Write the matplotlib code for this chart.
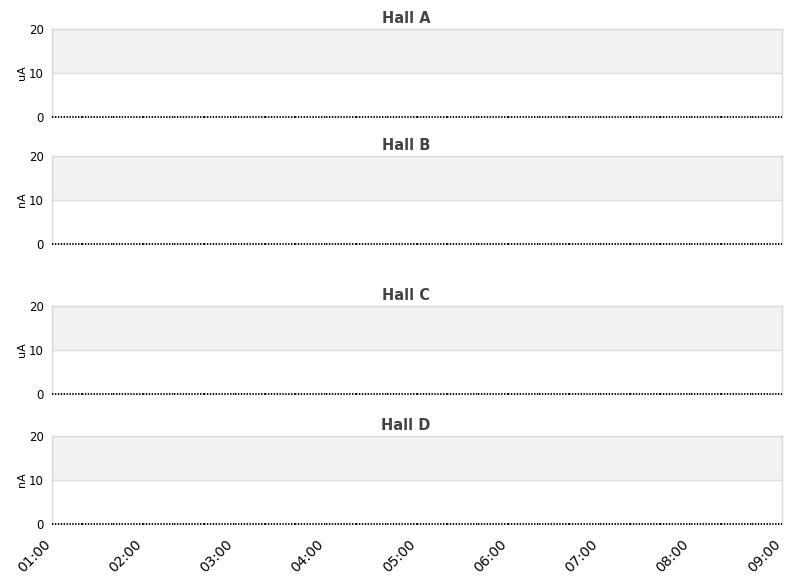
import numpy as np
import pandas as pd
import matplotlib
matplotlib.use("Agg")
import matplotlib.pyplot as plt
import matplotlib.dates as mdates
import matplotlib.transforms as mtransforms
from matplotlib.collections import LineCollection

# panels
halls = ["Hall A", "Hall B", "Hall C", "Hall D"]
units = ["uA", "nA", "uA", "nA"]

# readings every 20 min, all flat at zero
times = pd.date_range("2024-01-01 01:00", "2024-01-01 09:00", freq="20min")
hall_a = [0] * 25
hall_b = [0] * 25
hall_c = [0] * 25
hall_d = [0] * 25
series = [hall_a, hall_b, hall_c, hall_d]

y_ticks = [0, 10, 20]

W, H = 811, 578
fig = plt.figure(figsize=(W / 100, H / 100), dpi=100)

# pixel boxes (top, bottom) of each panel
boxes = [(29, 117), (156, 244), (306, 394), (436, 524)]
left, right = 52, 782
title_x = (406 - left) / (right - left)

for i, (top, bot) in enumerate(boxes):
    ax = fig.add_axes([left / W, 1 - bot / H, (right - left) / W, (bot - top) / H])
    ax.set_ylim(0, 20)
    ax.set_xlim(times[0], times[-1])
    ax.axhspan(10, 20, color="#f2f2f2", zorder=0, lw=0)
    ax.axhline(10, color="#e0e0e0", lw=1, zorder=1)

    x = mdates.date2num(times)
    y = np.array(series[i], dtype=float)
    segs = [[(x[k], y[k]), (x[k + 1], y[k + 1])] for k in range(len(x) - 1)]
    lc = LineCollection(segs, colors="black", linewidths=1.3, linestyles=(0, (0.8, 0.8)),
                        clip_on=False, zorder=3)
    ax.add_collection(lc)

    for s in ["top", "left", "right"]:
        ax.spines[s].set_color("#d8d8d8")
        ax.spines[s].set_linewidth(1)
    ax.spines["bottom"].set_visible(False)

    ax.set_yticks(y_ticks)
    ax.tick_params(axis="both", length=0, labelsize=8.5, pad=6)
    ax.set_ylabel(units[i], fontsize=8, labelpad=1)
    ax.set_title(halls[i], fontsize=10.5, fontweight="bold", color="#444444", pad=4, x=title_x)

    ax.xaxis.set_major_locator(mdates.HourLocator())
    ax.xaxis.set_major_formatter(mdates.DateFormatter("%H:%M"))
    if i < 3:
        ax.set_xticklabels([])
    else:
        ax.tick_params(axis="x", labelsize=10, pad=4)
        shift = mtransforms.ScaledTranslation(-0.09, -0.075, fig.dpi_scale_trans)
        for lab in ax.get_xticklabels():
            lab.set_rotation(45)
            lab.set_ha("right")
            lab.set_rotation_mode("anchor")
            lab.set_transform(lab.get_transform() + shift)

fig.savefig("out.png", dpi=100)
